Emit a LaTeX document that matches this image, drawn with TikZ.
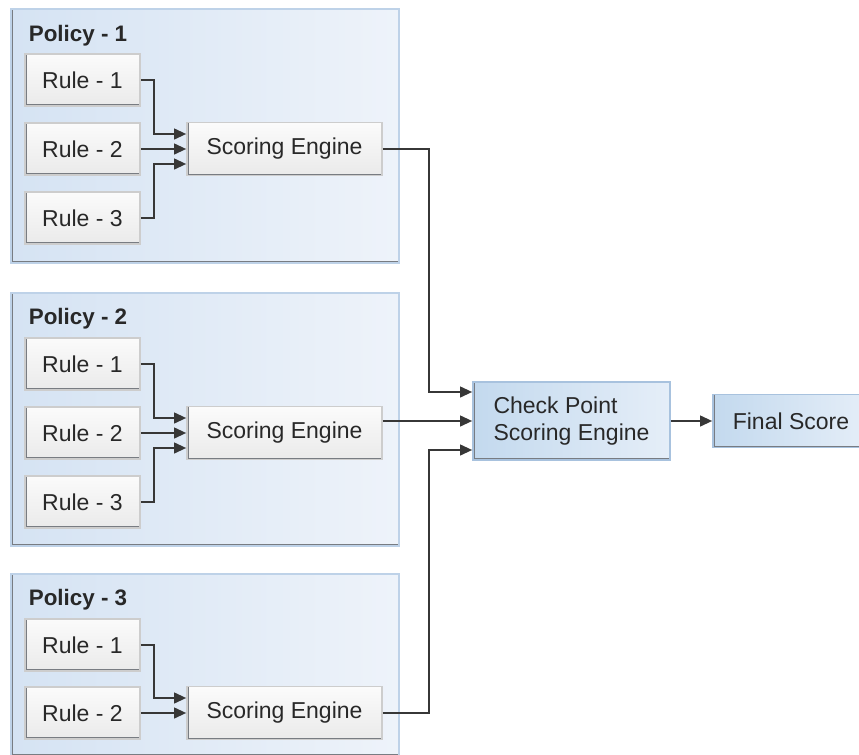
\documentclass[tikz,border=0pt]{standalone}
\usepackage{fontspec}
\setmainfont{Liberation Sans}
\usetikzlibrary{arrows.meta, positioning, calc}

\definecolor{polleft}{RGB}{213,227,243}
\definecolor{polright}{RGB}{238,243,250}
\definecolor{polborder}{RGB}{190,210,232}
\definecolor{boxtop}{RGB}{251,251,251}
\definecolor{boxbottom}{RGB}{234,234,234}
\definecolor{boxborder}{RGB}{205,205,205}
\definecolor{cpleft}{RGB}{195,217,238}
\definecolor{cpright}{RGB}{229,238,248}
\definecolor{cpborder}{RGB}{168,194,222}
\definecolor{edgeshade}{RGB}{120,124,130}
\definecolor{wire}{RGB}{55,55,55}
\definecolor{ink}{RGB}{40,40,40}

\tikzset{
  shade edge/.style={path picture={
    \draw[edgeshade, line width=2pt] (path picture bounding box.north west)
      |- (path picture bounding box.south east);}}
}

\begin{document}
\begin{tikzpicture}[
  x=0.5pt, y=-0.5pt, >={Triangle[length=6pt, width=5.4pt]},
  line width=0.85pt, text=ink,
  policy/.style={draw=polborder, left color=polleft, right color=polright,
    shade edge, anchor=north west, inner sep=0pt, minimum width=194pt},
  plabel/.style={anchor=base west, inner sep=0pt, font=\fontsize{11.2}{13}\selectfont\bfseries},
  rulebox/.style={draw=boxborder, top color=boxtop, bottom color=boxbottom,
    shade edge, minimum width=57.5pt, minimum height=26pt, inner sep=0pt,
    font=\fontsize{11.5}{13}\selectfont},
  engine/.style={rulebox, minimum width=97.5pt, minimum height=26.5pt},
  checkbox/.style={draw=cpborder, left color=cpleft, right color=cpright,
    shade edge, inner sep=0pt, align=left, font=\fontsize{11.5}{13.5}\selectfont},
  wire/.style={draw=wire, ->}
]
  \useasboundingbox (0,0) rectangle (859,755);

  % Trois politiques empilees, chacune avec ses regles et son moteur.
  \node[policy, minimum height=127pt] (P1) at (10,8) {};
  \node[policy, minimum height=126.5pt] (P2) at (10,292) {};
  \node[policy, minimum height=91pt] (P3) at (10,573) {};

  \node[plabel] (L1) at (28,41) {Policy - 1};
  \node[plabel] (L2) at (28,324) {Policy - 2};
  \node[plabel] (L3) at (28,605) {Policy - 3};

  \node[rulebox] (R11) at (82.5,80) {Rule - 1};
  \node[rulebox] (R12) at (82.5,149) {Rule - 2};
  \node[rulebox] (R13) at (82.5,218) {Rule - 3};
  \node[engine] (E1) at (284.5,149) {Scoring Engine};

  \node[rulebox] (R21) at (82.5,364) {Rule - 1};
  \node[rulebox] (R22) at (82.5,433) {Rule - 2};
  \node[rulebox] (R23) at (82.5,502) {Rule - 3};
  \node[engine] (E2) at (284.5,433) {Scoring Engine};

  \node[rulebox] (R31) at (82.5,645) {Rule - 1};
  \node[rulebox] (R32) at (82.5,713) {Rule - 2};
  \node[engine] (E3) at (284.5,713) {Scoring Engine};

  \node[checkbox, minimum width=98.5pt, minimum height=39pt] (CP) at (571.5,421)
    {Check Point\\Scoring Engine};
  \node[checkbox, minimum width=78pt, minimum height=26.5pt] (FS) at (791,421)
    {Final Score};

  % Regles vers moteurs
  \draw[wire] (R11.east) -- ++(13,0) |- ($(E1.west)+(0,-15)$);
  \draw[wire] (R12.east) -- (R12.east -| E1.west);
  \draw[wire] (R13.east) -- ++(13,0) |- ($(E1.west)+(0,15)$);

  \draw[wire] (R21.east) -- ++(13,0) |- ($(E2.west)+(0,-15)$);
  \draw[wire] (R22.east) -- (R22.east -| E2.west);
  \draw[wire] (R23.east) -- ++(13,0) |- ($(E2.west)+(0,15)$);

  \draw[wire] (R31.east) -- ++(13,0) |- ($(E3.west)+(0,-15)$);
  \draw[wire] (R32.east) -- (R32.east -| E3.west);

  % Moteurs vers le point de controle
  \draw[wire] (E1.east) -- ++(46,0) |- ($(CP.west)+(0,-29)$);
  \draw[wire] (E2.east |- CP.west) -- (CP.west);
  \draw[wire] (E3.east) -- ++(46,0) |- ($(CP.west)+(0,29)$);

  \draw[wire] (CP.east) -- (CP.east -| FS.west);
\end{tikzpicture}
\end{document}
